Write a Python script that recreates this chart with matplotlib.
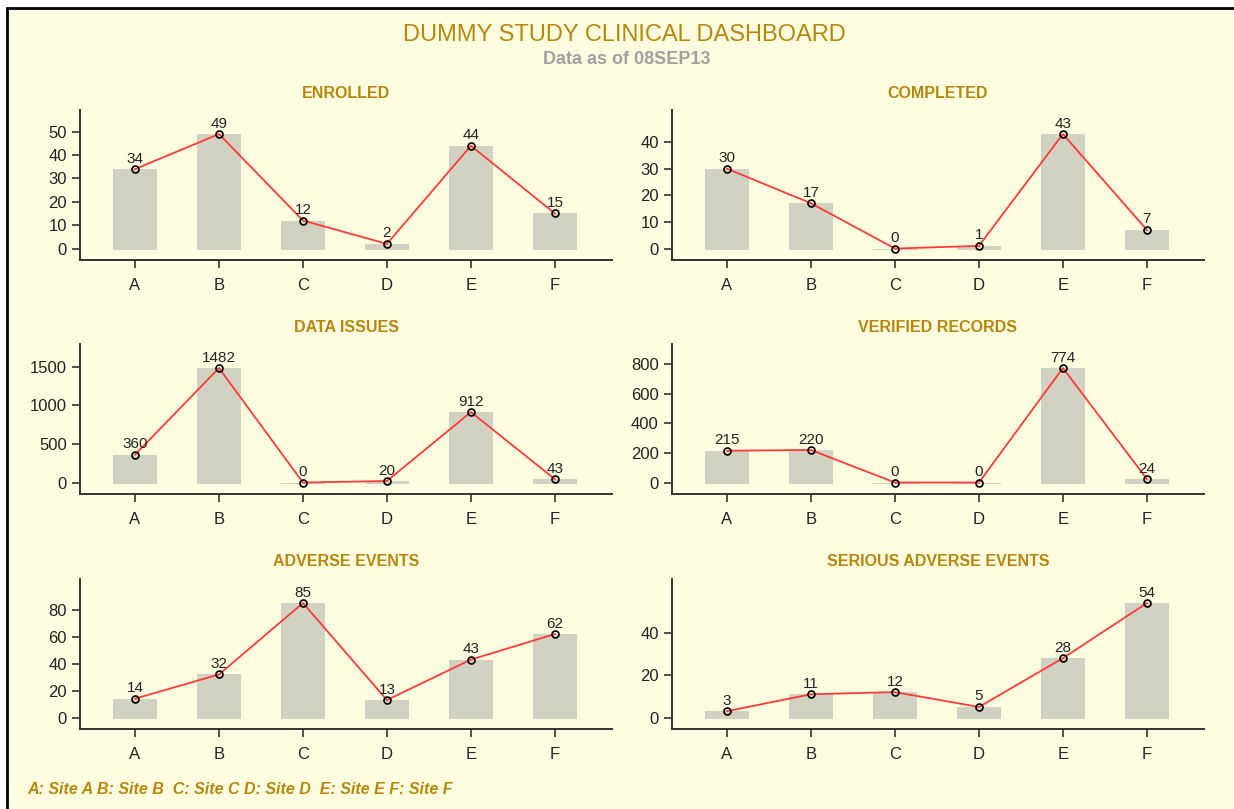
import numpy as np
import matplotlib
matplotlib.use("Agg")
import matplotlib.pyplot as plt
from matplotlib.patches import Rectangle

plt.rcParams['font.family'] = ['Liberation Sans', 'DejaVu Sans']

sites = ['A', 'B', 'C', 'D', 'E', 'F']
enrolled = [34, 49, 12, 2, 44, 15]
completed = [30, 17, 0, 1, 43, 7]
data_issues = [360, 1482, 0, 20, 912, 43]
verified = [215, 220, 0, 0, 774, 24]
adverse = [14, 32, 85, 13, 43, 62]
serious = [3, 11, 12, 5, 28, 54]

# y tick values shown on each panel
enrolled_ticks = [0, 10, 20, 30, 40, 50]
completed_ticks = [0, 10, 20, 30, 40]
issues_ticks = [0, 500, 1000, 1500]
verified_ticks = [0, 200, 400, 600, 800]
adverse_ticks = [0, 20, 40, 60, 80]
serious_ticks = [0, 20, 40]

panels = [
    ('ENROLLED', enrolled, enrolled_ticks),
    ('COMPLETED', completed, completed_ticks),
    ('DATA ISSUES', data_issues, issues_ticks),
    ('VERIFIED RECORDS', verified, verified_ticks),
    ('ADVERSE EVENTS', adverse, adverse_ticks),
    ('SERIOUS ADVERSE EVENTS', serious, serious_ticks),
]

gold = '#b8860b'
bg = '#fffde0'
bar_col = '#d2d2c2'
ink = '#222222'

W, H = 1234, 809
fig = plt.figure(figsize=(W / 100, H / 100), dpi=100)
fig.patch.set_facecolor('white')

# framed yellow background
frame = Rectangle((7 / W, -0.01), 1.02, 1 - 8 / H + 0.01, transform=fig.transFigure,
                  facecolor=bg, edgecolor='black', linewidth=2, zorder=-5)
fig.patches.append(frame)

fig.text(624 / W, 1 - 35 / H, 'DUMMY STUDY CLINICAL DASHBOARD', ha='center', va='center',
         fontsize=17, color=gold)
fig.text(627 / W, 1 - 59 / H, 'Data as of 08SEP13', ha='center', va='center',
         fontsize=13, color='#a0a0a0', fontweight='bold')
fig.text(27 / W, 1 - 790 / H, 'A: Site A B: Site B  C: Site C D: Site D  E: Site E F: Site F',
         ha='left', va='center', fontsize=11.5, color=gold, fontweight='bold', style='italic')

lefts = [80, 672]
bottoms = [260, 494, 729]
aw, ah = 532, 150

x = np.arange(len(sites))
for i, (title, vals, ticks) in enumerate(panels):
    r, c = divmod(i, 2)
    ax = fig.add_axes([lefts[c] / W, (H - bottoms[r]) / H, aw / W, ah / H])
    ax.set_facecolor('none')
    vmax = max(vals)
    lo = -0.1 * vmax
    base = lo * 0.1
    ax.bar(x, [v - base for v in vals], bottom=base, width=0.52,
           color=bar_col, zorder=1)
    ax.plot(x, vals, color='#ff3a3a', lw=1.3, marker='o', ms=5, mfc='none',
            mec='black', mew=1.2, zorder=3)
    for xi, v in zip(x, vals):
        ax.annotate(str(v), (xi, v), xytext=(0, 2.5), textcoords='offset points',
                    ha='center', va='bottom', fontsize=11, color=ink)
    ax.set_xlim(-0.655, 5.68)
    ax.set_ylim(lo, vmax * 1.21)
    ax.set_xticks(x)
    ax.set_xticklabels(sites)
    ax.set_yticks(ticks)
    ax.spines['top'].set_visible(False)
    ax.spines['right'].set_visible(False)
    for s in ('left', 'bottom'):
        ax.spines[s].set_linewidth(1.4)
        ax.spines[s].set_color('#333333')
    ax.tick_params(direction='out', length=6, width=1.2, labelsize=12,
                   color='#333333', labelcolor=ink)
    ax.tick_params(axis='x', pad=7)
    ax.set_title(title, fontsize=11.5, fontweight='bold', color=gold, pad=9)

fig.savefig('out.png', dpi=100, facecolor=fig.get_facecolor())
